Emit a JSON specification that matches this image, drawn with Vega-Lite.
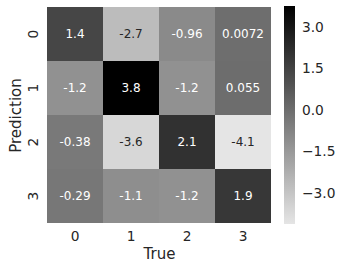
{
  "$schema": "https://vega.github.io/schema/vega-lite/v6.json",
  "width": 224,
  "height": 218,
  "autosize": "none",
  "padding": {"left": 47, "top": 6, "right": 72, "bottom": 47},
  "background": "white",
  "config": {
    "view": {"stroke": null},
    "font": "DejaVu Sans",
    "axis": {
      "domain": false,
      "ticks": false,
      "grid": false,
      "labelFont": "DejaVu Sans",
      "labelFontSize": 13.75,
      "labelColor": "#262626",
      "titleFont": "DejaVu Sans",
      "titleFontSize": 15,
      "titleFontWeight": "normal",
      "titleColor": "#262626"
    }
  },
  "data": {
    "values": [
      {"true": 0, "pred": 0, "value": 1.4, "label": "1.4"},
      {"true": 1, "pred": 0, "value": -2.7, "label": "-2.7"},
      {"true": 2, "pred": 0, "value": -0.96, "label": "-0.96"},
      {"true": 3, "pred": 0, "value": 0.0072, "label": "0.0072"},
      {"true": 0, "pred": 1, "value": -1.2, "label": "-1.2"},
      {"true": 1, "pred": 1, "value": 3.8, "label": "3.8"},
      {"true": 2, "pred": 1, "value": -1.2, "label": "-1.2"},
      {"true": 3, "pred": 1, "value": 0.055, "label": "0.055"},
      {"true": 0, "pred": 2, "value": -0.38, "label": "-0.38"},
      {"true": 1, "pred": 2, "value": -3.6, "label": "-3.6"},
      {"true": 2, "pred": 2, "value": 2.1, "label": "2.1"},
      {"true": 3, "pred": 2, "value": -4.1, "label": "-4.1"},
      {"true": 0, "pred": 3, "value": -0.29, "label": "-0.29"},
      {"true": 1, "pred": 3, "value": -1.1, "label": "-1.1"},
      {"true": 2, "pred": 3, "value": -1.2, "label": "-1.2"},
      {"true": 3, "pred": 3, "value": 1.9, "label": "1.9"}
    ]
  },
  "encoding": {
    "x": {
      "field": "true",
      "type": "ordinal",
      "scale": {"paddingInner": 0, "paddingOuter": 0, "round": true},
      "axis": {"title": "True", "labelAngle": 0, "labelPadding": 5, "titlePadding": 4}
    },
    "y": {
      "field": "pred",
      "type": "ordinal",
      "scale": {"paddingInner": 0, "paddingOuter": 0, "round": true},
      "axis": {"title": "Prediction", "labelAngle": -90, "labelAlign": "center", "labelBaseline": "alphabetic", "labelPadding": 10, "titlePadding": 3}
    }
  },
  "layer": [
    {
      "mark": {"type": "rect"},
      "encoding": {
        "color": {
          "field": "value",
          "type": "quantitative",
          "scale": {"domain": [-4.1, 3.8], "range": ["#e5e5e5", "#000000"], "interpolate": "rgb"},
          "legend": {
            "title": null,
            "orient": "right",
            "offset": 13,
            "padding": 0,
            "gradientLength": 218,
            "gradientThickness": 11,
            "gradientStrokeWidth": 0,
            "values": [-3, -1.5, 0, 1.5, 3],
            "format": ".1f",
            "labelFont": "DejaVu Sans",
            "labelFontSize": 13.75,
            "labelColor": "#262626",
            "labelOffset": 7
          }
        }
      }
    },
    {
      "mark": {"type": "text", "fontSize": 12, "font": "DejaVu Sans"},
      "encoding": {
        "text": {"field": "label"},
        "color": {
          "condition": {"test": "datum.value < -2", "value": "#262626"},
          "value": "#ffffff"
        }
      }
    }
  ]
}
